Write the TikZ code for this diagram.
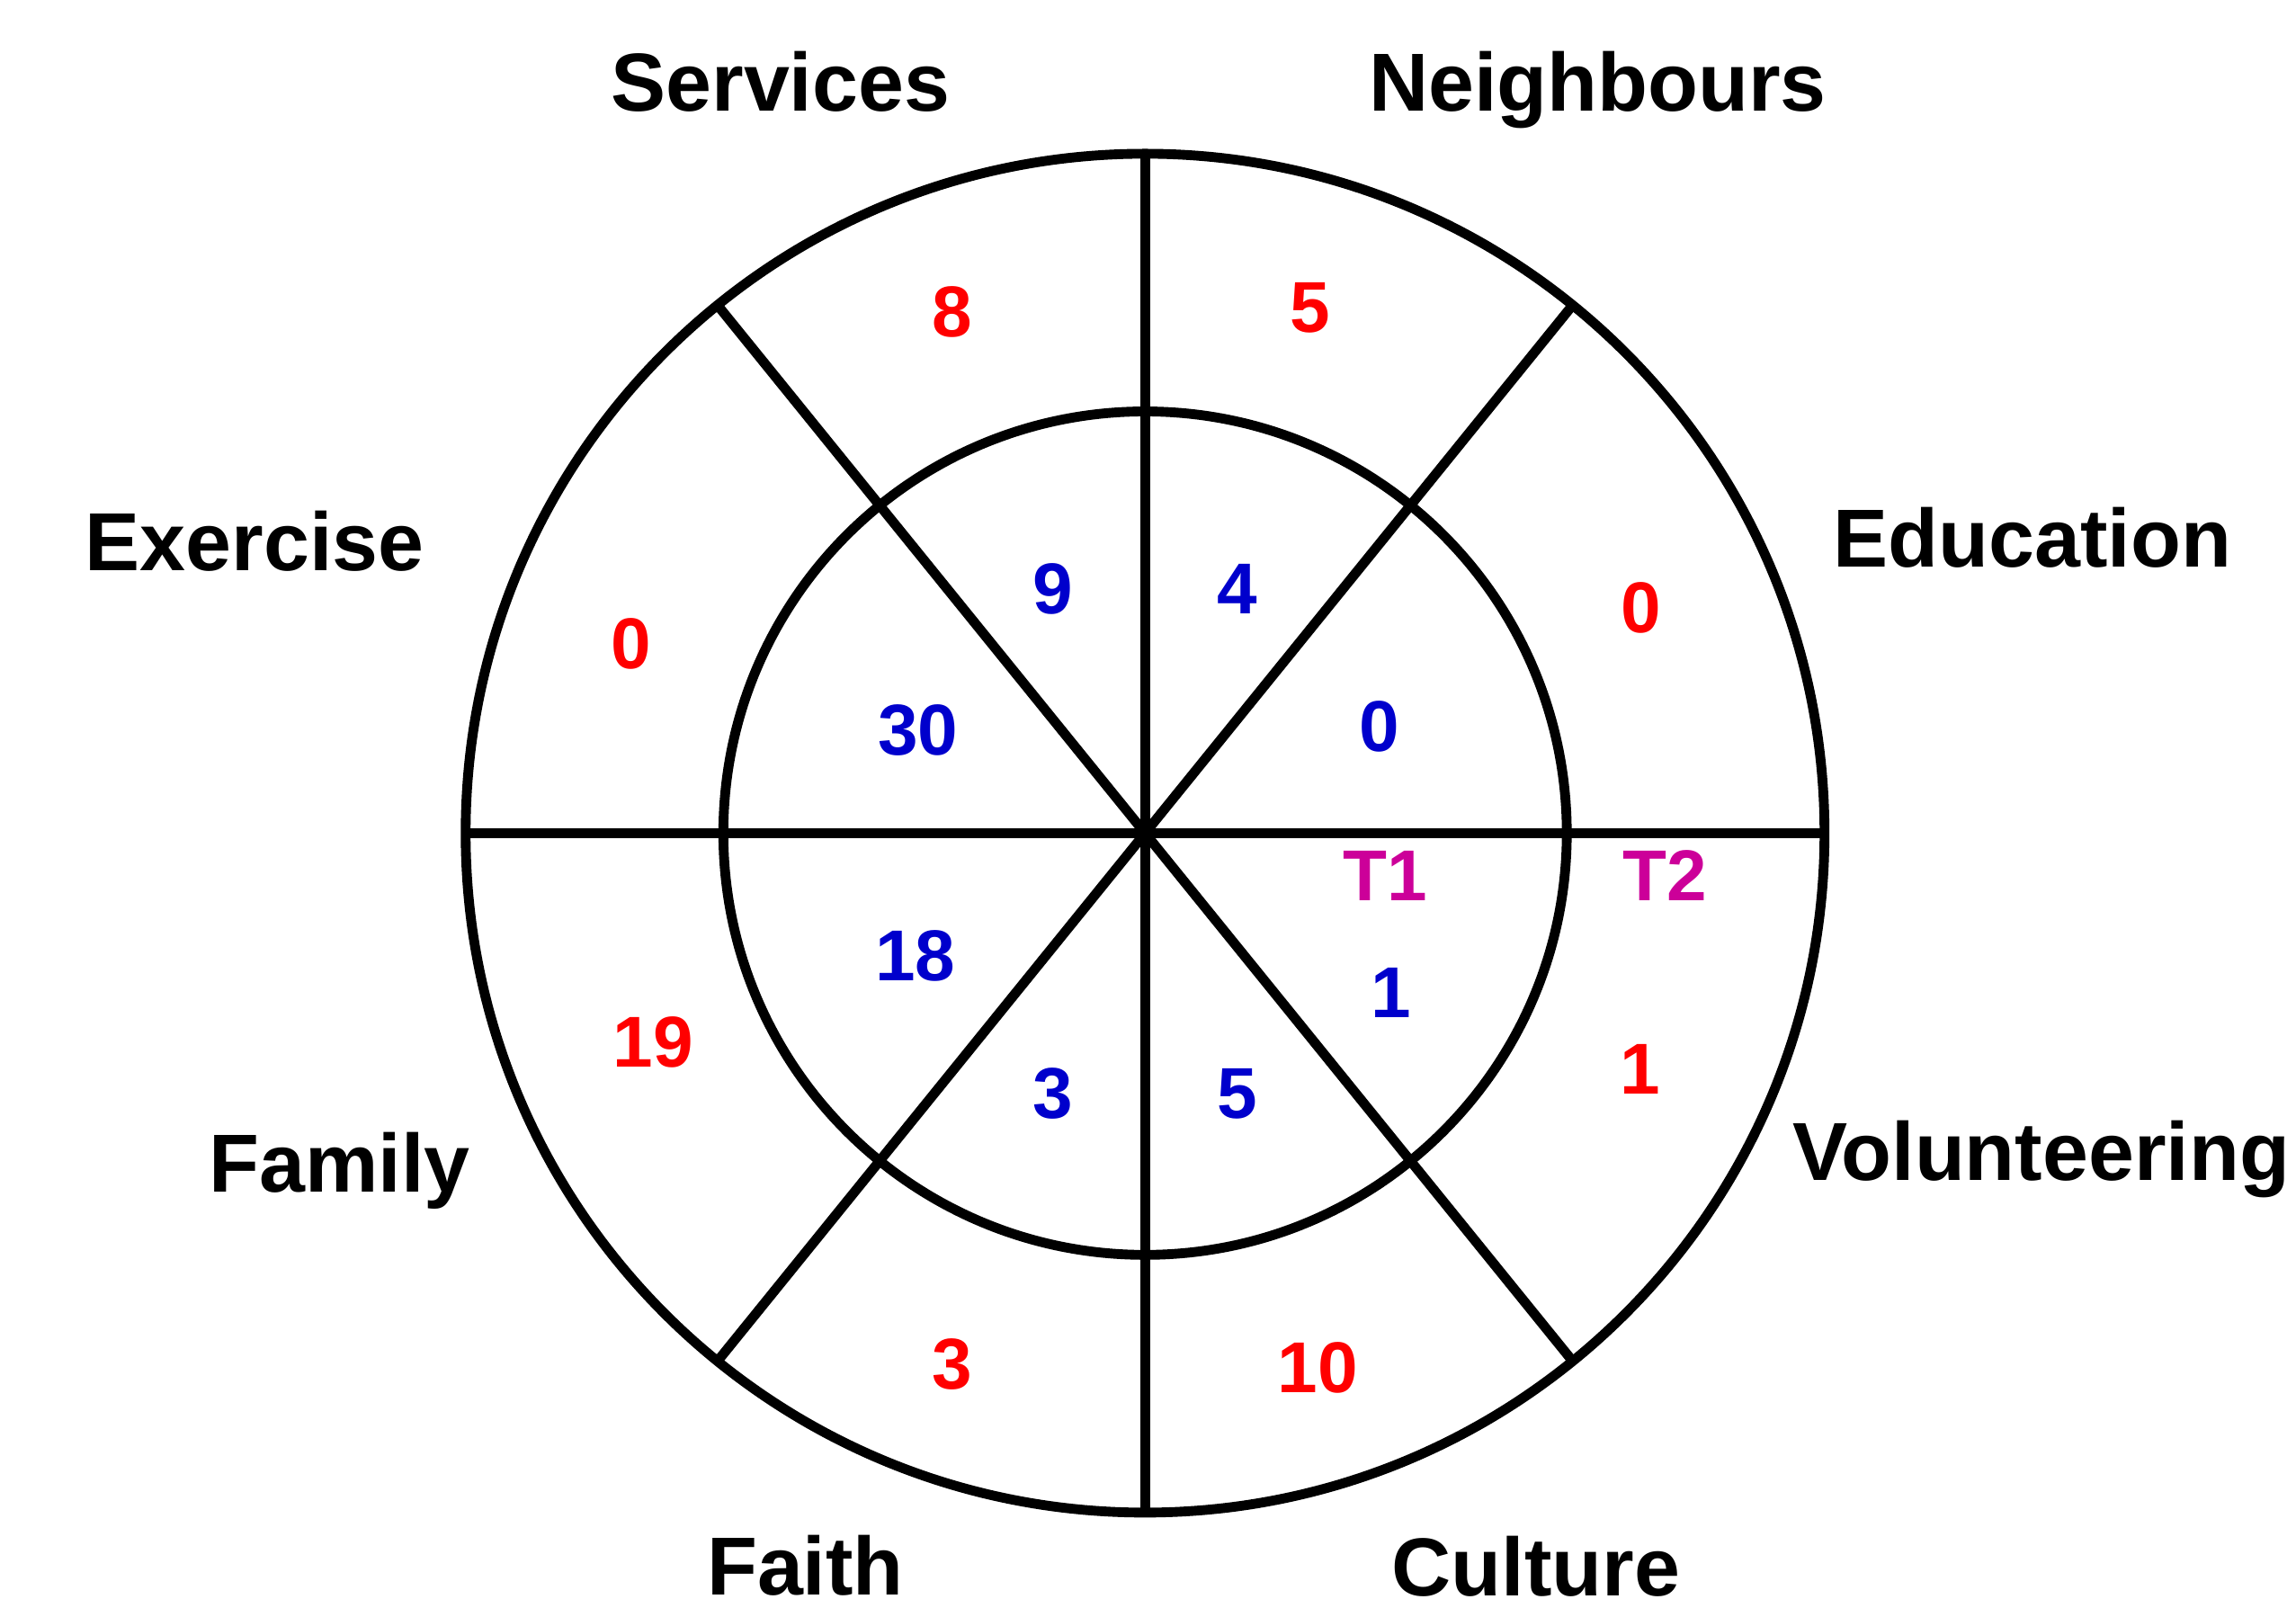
\documentclass[tikz,border=0pt]{standalone}
\usepackage{fontspec}
\setmainfont{Liberation Sans}
\usetikzlibrary{positioning}
\definecolor{rojo}{HTML}{FF0000}
\definecolor{azul}{HTML}{0000CC}
\definecolor{morado}{HTML}{CC0099}

\begin{document}
\begin{tikzpicture}[line width=1.9pt,
      cat/.style={font=\fontsize{16}{19}\selectfont\bfseries, anchor=base, inner sep=0pt},
      num/.style={font=\fontsize{14}{17}\selectfont\bfseries, inner sep=0pt},
      ext/.style={num, text=rojo},
      int/.style={num, text=azul},
      tt/.style={num, text=morado}]
    \useasboundingbox (-7.82,-5.29) rectangle (7.86,5.69);
    % rings and spokes
    \coordinate (o) at (0,0);
    \draw (o) circle (4.64);
    \draw (o) circle (2.88);
    \foreach \a in {0,51,90,129,180,231,270,309}
      \draw (o) -- (\a:4.64);
    % topic names
    \node[cat] (serv) at (-2.49,4.93) {Services};
    \node[cat] (neig) at (3.09,4.93) {Neighbours};
    \node[cat] (exer) at (-6.08,1.79) {Exercise};
    \node[cat] (educ) at (6.06,1.82) {Education};
    \node[cat] (fam) at (-5.50,-2.45) {Family};
    \node[cat] (vol) at (6.12,-2.37) {Volunteering};
    \node[cat] (fai) at (-2.32,-5.20) {Faith};
    \node[cat] (cul) at (2.67,-5.21) {Culture};
    % outer ring (T2)
    \node[ext] (e1) at (-1.32,3.56) {8};
    \node[ext] (e2) at (1.13,3.59) {5};
    \node[ext] (e3) at (-3.51,1.29) {0};
    \node[ext] (e4) at (3.39,1.54) {0};
    \node[ext] (e5) at (-3.36,-1.43) {19};
    \node[ext] (e6) at (3.38,-1.61) {1};
    \node[ext] (e7) at (-1.32,-3.63) {3};
    \node[ext] (e8) at (1.18,-3.65) {10};
    % inner ring (T1)
    \node[int] (i1) at (-0.63,1.67) {9};
    \node[int] (i2) at (0.63,1.67) {4};
    \node[int] (i3) at (-1.55,0.70) {30};
    \node[int] (i4) at (1.60,0.73) {0};
    \node[int] (i5) at (-1.57,-0.84) {18};
    \node[int] (i6) at (1.68,-1.09) {1};
    \node[int] (i7) at (-0.63,-1.78) {3};
    \node[int] (i8) at (0.63,-1.78) {5};
    \node[tt] (ta) at (1.64,-0.29) {T1};
    \node[tt] (tb) at (3.55,-0.29) {T2};
  \end{tikzpicture}
\end{document}
